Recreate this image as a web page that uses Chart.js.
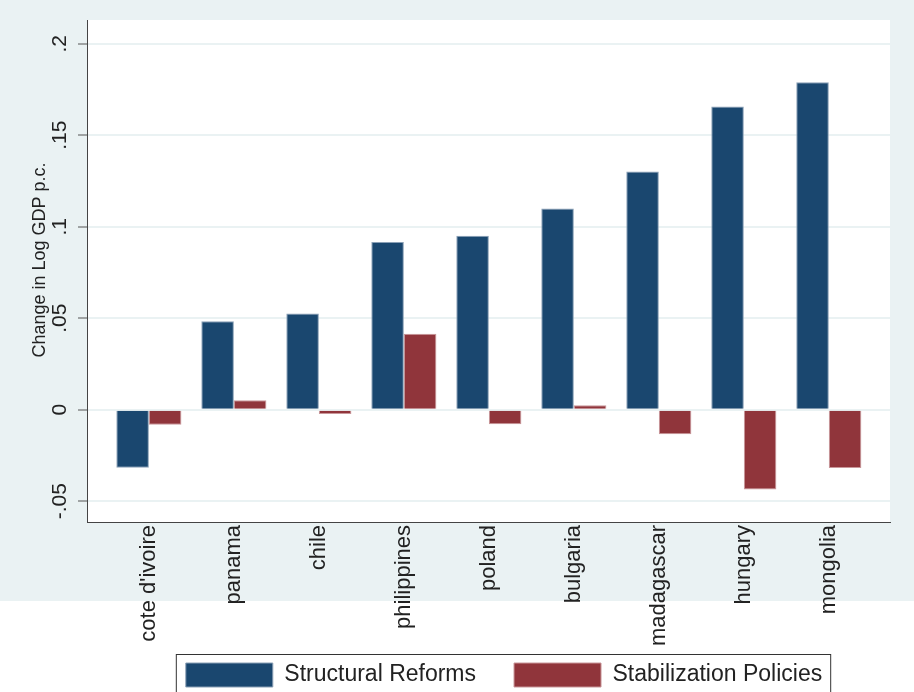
<!DOCTYPE html>
<html>
<head>
<meta charset="utf-8">
<script src="https://cdn.jsdelivr.net/npm/chart.js@4"></script>
<style>
  body { margin: 0; background: #fff; }
  canvas { display: block; }
</style>
</head>
<body>
<canvas id="myChart" width="914" height="692"></canvas>
<script>
// values
const countries = ["cote d'ivoire", 'panama', 'chile', 'philippines', 'poland',
                   'bulgaria', 'madagascar', 'hungary', 'mongolia']
const structuralReforms = [-0.0317, 0.0483, 0.0526, 0.0916, 0.0951, 0.1100, 0.1302, 0.1657, 0.1790]
const stabilizationPolicies = [-0.0082, 0.0051, -0.0024, 0.0415, -0.0080, 0.0024, -0.0135, -0.0437, -0.0319]
const yTicks = [-0.05, 0, 0.05, 0.1, 0.15, 0.2]
const yTickLabels = ['-.05', '0', '.05', '.1', '.15', '.2']
const yTitle = 'Change in Log GDP p.c.'

const NAVY = '#1a476f'
const MAROON = '#90353b'
const BACK = '#eaf2f3'

Chart.defaults.font.family = "'Liberation Sans', Arial, sans-serif"
Chart.defaults.color = '#222'

// stata style backdrop: blue-grey graph region, white plot region
const backdrop = {
  id: 'backdrop',
  beforeDraw(chart) {
    const c = chart.ctx
    const a = chart.chartArea
    c.save()
    c.fillStyle = '#fff'
    c.fillRect(0, 0, chart.width, chart.height)
    c.fillStyle = BACK
    c.fillRect(0, 0, chart.width, 601)
    c.fillStyle = '#fff'
    c.fillRect(a.left, a.top, a.right - a.left, a.bottom - a.top)
    c.restore()
  },
  afterUpdate(chart) {
    // put the legend row where stata put it (centre x 504, items top at 663)
    const lg = chart.legend
    const hb = lg.legendHitBoxes
    const last = hb[hb.length - 1]
    const dx = 504 - (hb[0].left + last.left + last.width) / 2
    const dy = 663 - hb[0].top
    lg.left += dx
    lg.right += dx
    lg.top += dy
    lg.bottom += dy
    hb.forEach((h) => { h.left += dx; h.top += dy })
  },
  afterDraw(chart) {
    const c = chart.ctx
    const hb = chart.legend.legendHitBoxes
    const last = hb[hb.length - 1]
    c.save()
    // frame round the legend
    c.strokeStyle = '#333'
    c.lineWidth = 1
    c.strokeRect(hb[0].left - 9.5, hb[0].top - 8.5, last.left + last.width - hb[0].left + 18, 60)
    // y axis title
    c.translate(40, 260)
    c.rotate(-Math.PI / 2)
    c.fillStyle = '#222'
    c.font = "18px 'Liberation Sans', Arial, sans-serif"
    c.textAlign = 'center'
    c.textBaseline = 'middle'
    c.fillText(yTitle, 0, 0)
    c.restore()
  }
}

const ctx = document.getElementById('myChart')
const myChart = new Chart(ctx, {
  type: 'bar',
  data: {
    datasets: [{
      label: 'Structural Reforms',
      data: structuralReforms.map((v, i) => ({ x: i, y: v })),
      backgroundColor: NAVY,
      borderColor: '#8aa0b6',
      borderWidth: 1
    },
    {
      label: 'Stabilization Policies',
      data: stabilizationPolicies.map((v, i) => ({ x: i, y: v })),
      backgroundColor: MAROON,
      borderColor: '#c9979a',
      borderWidth: 1
    }]
  },
  options: {
    responsive: false,
    animation: false,
    categoryPercentage: 0.766,
    barPercentage: 1,
    layout: {
      padding: { left: 0, right: 24, top: 20, bottom: -32 }
    },
    scales: {
      x: {
        type: 'linear',
        offset: false,
        min: -0.728,
        max: 8.72,
        afterBuildTicks: (s) => { s.ticks = countries.map((c, i) => ({ value: i })) },
        afterFit: (s) => { s.height = 130 },
        grid: { display: false, drawTicks: false, offset: false },
        border: { color: '#444', width: 1 },
        ticks: {
          autoSkip: false,
          minRotation: 90,
          maxRotation: 90,
          padding: 3,
          font: { size: 22 },
          color: '#222',
          callback: (v) => countries[v]
        }
      },
      y: {
        min: -0.0614,
        max: 0.213,
        afterBuildTicks: (s) => { s.ticks = yTicks.map((v) => ({ value: v })) },
        afterFit: (s) => { s.width = 87 },
        grid: { color: BACK, lineWidth: 2, tickLength: 9, tickColor: '#555', tickWidth: 1 },
        border: { color: '#444', width: 1 },
        ticks: {
          autoSkip: false,
          minRotation: 90,
          maxRotation: 90,
          crossAlign: 'center',
          padding: 0,
          font: { size: 21 },
          color: '#222',
          callback: (v, i) => yTickLabels[i]
        }
      }
    },
    plugins: {
      legend: {
        position: 'bottom',
        labels: {
          boxWidth: 87,
          boxHeight: 24,
          padding: 38,
          font: { size: 23 },
          color: '#222'
        }
      },
      tooltip: { enabled: false }
    }
  },
  plugins: [backdrop]
})
</script>
</body>
</html>
